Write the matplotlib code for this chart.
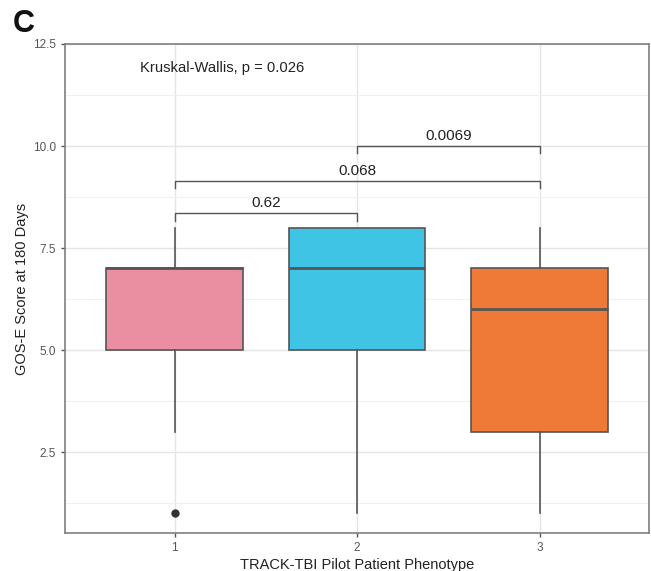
import matplotlib
matplotlib.use("Agg")
import matplotlib.pyplot as plt
from matplotlib.ticker import MultipleLocator

plt.rcParams['font.family'] = ['Liberation Sans', 'DejaVu Sans']

phenotypes = [1, 2, 3]
whislo = [3, 1, 1]
q1 = [5, 5, 3]
med = [7, 7, 6]
q3 = [7, 8, 7]
whishi = [8, 8, 8]
fliers = [[1], [], []]
colors = ['#EA8EA1', '#40C4E6', '#EF7A37']

comparisons = [(1, 2), (1, 3), (2, 3)]
comp_p = ['0.62', '0.068', '0.0069']
comp_y = [8.35, 9.15, 10.0]
kw_text = 'Kruskal-Wallis, p = 0.026'

fig = plt.figure(figsize=(6.51, 5.71), dpi=100)
ax = fig.add_axes([65/651, 1-533/571, (649-65)/651, (533-44)/571])

stats = []
for i in range(3):
    stats.append(dict(med=med[i], q1=q1[i], q3=q3[i], whislo=whislo[i],
                      whishi=whishi[i], fliers=fliers[i]))
edge = '#555555'
bp = ax.bxp(stats, positions=phenotypes, widths=0.75, patch_artist=True,
            showcaps=False,
            boxprops=dict(edgecolor=edge, linewidth=1.2),
            medianprops=dict(color=edge, linewidth=2.0),
            whiskerprops=dict(color=edge, linewidth=1.2),
            flierprops=dict(marker='o', markerfacecolor='#333333',
                            markeredgecolor='#333333', markersize=5))
for patch, c in zip(bp['boxes'], colors):
    patch.set_facecolor(c)
for a in bp['boxes'] + bp['medians'] + bp['whiskers'] + bp['fliers']:
    a.set_zorder(3)

tick_h = 0.18
for (a, b), p, y in zip(comparisons, comp_p, comp_y):
    ax.plot([a, a, b, b], [y - tick_h, y, y, y - tick_h], color='#555555',
            lw=1.0, zorder=4)
    ax.text((a + b) / 2, y + 0.25, p, ha='center', va='center', fontsize=11,
            color='#222222', zorder=5)

ax.text(0.81, 11.9, kw_text, ha='left', va='center', fontsize=10.6,
        color='#222222')

ax.set_xlim(0.4, 3.6)
ax.set_ylim(0.52, 12.5)
ax.set_xticks(phenotypes)
ax.set_xticklabels([str(p) for p in phenotypes])
ax.yaxis.set_major_locator(MultipleLocator(2.5))
ax.yaxis.set_minor_locator(MultipleLocator(1.25))
ax.set_yticks([2.5, 5.0, 7.5, 10.0, 12.5])
ax.set_yticklabels(['2.5', '5.0', '7.5', '10.0', '12.5'])
ax.grid(True, which='major', color='#E5E5E5', lw=1.0, zorder=0)
ax.grid(True, which='minor', axis='y', color='#F0F0F0', lw=0.8, zorder=0)
ax.set_axisbelow(True)
ax.tick_params(axis='both', which='major', colors='#555555', labelcolor='#555555',
               labelsize=8.5, length=3, width=1)
ax.tick_params(axis='y', which='minor', length=0)
for s in ax.spines.values():
    s.set_color('#7f7f7f')
    s.set_linewidth(1.2)

ax.set_xlabel('TRACK-TBI Pilot Patient Phenotype', fontsize=10.5, color='#222222',
              labelpad=3)
ax.set_ylabel('GOS-E Score at 180 Days', fontsize=10.5, color='#222222',
              labelpad=3)

fig.text(13/651, 1-24/571, 'C', fontsize=22, fontweight='bold', va='center',
         ha='left', color='#111111')

fig.savefig('out.png', dpi=100)
